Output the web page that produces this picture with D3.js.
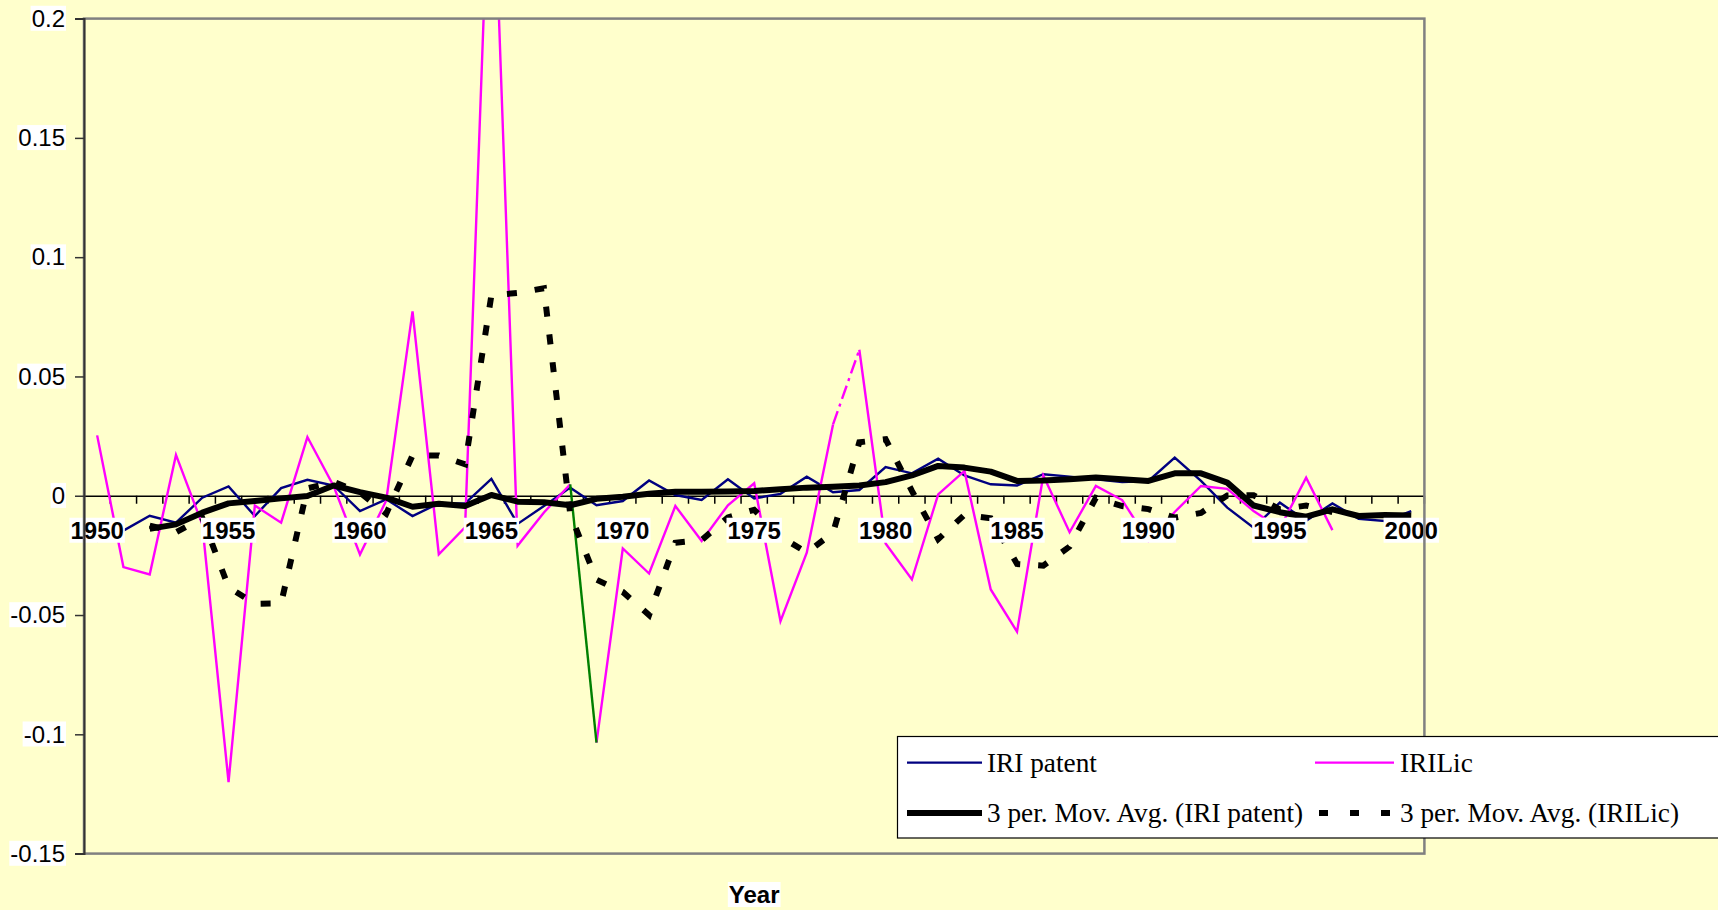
<!DOCTYPE html>
<html><head><meta charset="utf-8">
<script src="https://cdn.jsdelivr.net/npm/d3@7"></script>
<style>html,body{margin:0;padding:0;background:#FFFFCC;overflow:hidden}</style>
</head><body><svg id="c" width="1718" height="910"></svg>
<script>
const years = [1950,1951,1952,1953,1954,1955,1956,1957,1958,1959,1960,1961,1962,1963,1964,1965,1966,1967,1968,1969,1970,1971,1972,1973,1974,1975,1976,1977,1978,1979,1980,1981,1982,1983,1984,1985,1986,1987,1988,1989,1990,1991,1992,1993,1994,1995,1996,1997,1998,1999,2000];
const iriPatent = [-0.019,-0.0146,-0.0084,-0.0113,-0.0008,0.0039,-0.0085,0.0032,0.0067,0.0043,-0.0064,-0.0015,-0.0085,-0.0032,-0.0032,0.0071,-0.0118,-0.0043,0.0034,-0.004,-0.0022,0.0064,0.0003,-0.0018,0.0069,-0.0011,0.0008,0.008,0.0015,0.0024,0.012,0.0094,0.0155,0.0085,0.0048,0.0043,0.009,0.008,0.0069,0.0057,0.0062,0.016,0.0062,-0.005,-0.0134,-0.0029,-0.0105,-0.0032,-0.0097,-0.0106,-0.0064];
const iriLic = [0.0253,-0.0299,-0.033,0.0171,-0.012,-0.12,-0.0041,-0.0113,0.0246,0.004,-0.0246,-0.002,0.0773,-0.0246,-0.0132,0.29,-0.0209,-0.007,0.0048,-0.1035,-0.0221,-0.0326,-0.0043,-0.019,-0.004,0.0052,-0.0526,-0.0239,0.0299,0.0612,-0.02,-0.0351,0.0006,0.0104,-0.0393,-0.057,0.0085,-0.0153,0.0041,-0.0018,-0.019,-0.0068,0.0041,0.0029,-0.0064,-0.0136,0.0076,-0.0144];
const maPatent = [null,null,-0.0139,-0.012,-0.0071,-0.0032,-0.0022,-0.0011,-0.0001,0.0043,0.0015,-0.0008,-0.0046,-0.0034,-0.0043,0.0003,-0.0025,-0.0027,-0.004,-0.0013,-0.0004,0.0008,0.0017,0.0017,0.0018,0.002,0.0027,0.0034,0.0038,0.0043,0.0057,0.0085,0.0125,0.0118,0.0101,0.0062,0.0064,0.0069,0.0076,0.0069,0.0062,0.0094,0.0094,0.0055,-0.0041,-0.0069,-0.0088,-0.0057,-0.0085,-0.0081,-0.0083];
const maLic = [null,null,-0.0125,-0.0153,-0.0093,-0.0383,-0.0453,-0.0451,0.0031,0.0058,0.0013,-0.0075,0.0169,0.0169,0.0132,0.084,0.085,0.087,-0.0077,-0.0352,-0.0403,-0.050,-0.0197,-0.0186,-0.0091,-0.0059,-0.0171,-0.0238,-0.0155,0.0224,0.0237,0.002,-0.0182,-0.008,-0.0094,-0.0286,-0.0293,-0.0213,-0.0009,-0.0043,-0.0056,-0.0092,-0.0072,0.0001,0.0002,-0.0057,-0.0041,-0.0068];
const xTickLabels = ["1950","1955","1960","1965","1970","1975","1980","1985","1990","1995","2000"];
const yTickValues = [-0.15,-0.1,-0.05,0,0.05,0.1,0.15,0.2];
const yTickLabels = ["-0.15","-0.1","-0.05","0","0.05","0.1","0.15","0.2"];
const seriesNames = ["IRI patent","IRILic","3 per. Mov. Avg. (IRI patent)","3 per. Mov. Avg. (IRILic)"];
const axisTitle = "Year";
// special segment formatting of IRILic (segment starting at given year)
const licGreenFrom = 1968;
const licDashFrom = 1978;

const svg = d3.select("#c");
const W = 1718, H = 910;
const L = 84, R = 1424.4, T = 18.6, B = 853.6;
const bg = "#FFFFCC";
const sans = "Liberation Sans, Arial, sans-serif";

svg.append("rect").attr("width",W).attr("height",H).attr("fill",bg);

const x = d3.scaleBand().domain(years).range([L,R]).padding(0);
const y = d3.scaleLinear().domain([-0.15,0.2]).range([B,T]);
const cx = yr => x(yr) + x.bandwidth()/2;

svg.append("defs").append("clipPath").attr("id","clip")
  .append("rect").attr("x",L).attr("y",T).attr("width",R-L).attr("height",B-T);

svg.append("rect").attr("x",L).attr("y",T).attr("width",R-L).attr("height",B-T).attr("fill",bg);

// category axis at zero
const y0 = y(0);
const xAxis = d3.axisBottom(x).tickSize(0).tickFormat("");
const gx = svg.append("g").attr("transform",`translate(0,${y0})`).call(xAxis);
gx.select(".domain").attr("stroke","#000").attr("stroke-width",1.5);
const bounds = years.map(yr => x(yr)).concat([R]);
svg.append("g").selectAll("line").data(bounds).join("line")
  .attr("x1",d=>d).attr("x2",d=>d).attr("y1",y0).attr("y2",y0+8)
  .attr("stroke","#000").attr("stroke-width",1.5);

const plot = svg.append("g").attr("clip-path","url(#clip)");

const line = d3.line().defined(d => d.v != null).x(d => cx(d.yr)).y(d => y(d.v));

const patData = years.map((yr,i)=>({yr, v: iriPatent[i]}));
plot.append("path").attr("d", line(patData)).attr("fill","none")
  .attr("stroke","#000080").attr("stroke-width",2.4);

const licData = years.map((yr,i)=>({yr, v: i < iriLic.length ? iriLic[i] : null}));
const segs = [];
for (let i=0;i<iriLic.length-1;i++) segs.push({a: licData[i], b: licData[i+1]});
const normal = [];
let cur = [];
segs.forEach(s=>{
  if (s.a.yr === licGreenFrom || s.a.yr === licDashFrom){
    if (cur.length) normal.push(cur); cur=[];
  } else {
    if (!cur.length) cur.push(s.a);
    cur.push(s.b);
  }
});
if (cur.length) normal.push(cur);
normal.forEach(pts=>{
  plot.append("path").attr("d", line(pts)).attr("fill","none")
    .attr("stroke","#FF00FF").attr("stroke-width",2.4);
});
segs.filter(s=>s.a.yr===licGreenFrom).forEach(s=>{
  plot.append("path").attr("d", line([s.a,s.b])).attr("fill","none")
    .attr("stroke","#008000").attr("stroke-width",2.4);
});
segs.filter(s=>s.a.yr===licDashFrom).forEach(s=>{
  plot.append("path").attr("d", line([s.a,s.b])).attr("fill","none")
    .attr("stroke","#FF00FF").attr("stroke-width",2.4).attr("stroke-dasharray","14,5,3,5");
});

const maPatData = years.map((yr,i)=>({yr, v: maPatent[i]}));
plot.append("path").attr("d", line(maPatData)).attr("fill","none")
  .attr("stroke","#000").attr("stroke-width",6).attr("stroke-linejoin","round");
const maLicData = years.map((yr,i)=>({yr, v: i < maLic.length ? maLic[i] : null}));
plot.append("path").attr("d", line(maLicData)).attr("fill","none")
  .attr("stroke","#000").attr("stroke-width",6).attr("stroke-dasharray","10,18");

// x labels with white boxes
xTickLabels.forEach(lbl=>{
  const yr = +lbl;
  const g = svg.append("g");
  const t = g.append("text").attr("x",cx(yr)).attr("y",y0+43).attr("text-anchor","middle")
    .attr("font-family",sans).attr("font-weight","bold")
    .attr("font-size",24).attr("fill","#000").text(lbl);
  const bb = t.node().getBBox();
  g.insert("rect","text").attr("x",bb.x-1).attr("y",bb.y+1).attr("width",bb.width+2).attr("height",bb.height-2).attr("fill","#fff");
});

// plot border
svg.append("rect").attr("x",L).attr("y",T).attr("width",R-L).attr("height",B-T)
  .attr("fill","none").attr("stroke","#808080").attr("stroke-width",2.5);

// y axis
const yAxis = d3.axisLeft(y).tickValues(yTickValues).tickSize(9).tickFormat((d,i)=>yTickLabels[i]).tickPadding(10);
const gy = svg.append("g").attr("transform",`translate(${L},0)`).call(yAxis);
gy.select(".domain").attr("stroke","#333").attr("stroke-width",2);
gy.selectAll(".tick line").attr("stroke","#333").attr("stroke-width",1.5);
gy.selectAll(".tick text").attr("font-family",sans).attr("font-size",24).attr("fill","#000");
gy.selectAll(".tick").each(function(){
  const g = d3.select(this);
  const bb = g.select("text").node().getBBox();
  g.insert("rect","text").attr("x",bb.x-1).attr("y",bb.y+1).attr("width",bb.width+2).attr("height",bb.height-2).attr("fill","#fff");
});

// axis title
const tg = svg.append("g");
const tt = tg.append("text").attr("x",(L+R)/2).attr("y",903).attr("text-anchor","middle")
  .attr("font-family",sans).attr("font-weight","bold").attr("font-size",24).text(axisTitle);
const tb = tt.node().getBBox();
tg.insert("rect","text").attr("x",tb.x-1).attr("y",tb.y+1).attr("width",tb.width+2).attr("height",tb.height-2).attr("fill","#fff");

// legend
const lg = svg.append("g");
lg.append("rect").attr("x",897.5).attr("y",736.5).attr("width",830).attr("height",101.5)
  .attr("fill","#fff").attr("stroke","#000").attr("stroke-width",1.2);
const legendItems = [
  {name: seriesNames[0], x1: 907, x2: 982, tx: 987, yy: 762.6, color:"#000080", w:2.4, dash:null},
  {name: seriesNames[1], x1: 1315, x2: 1394, tx: 1400, yy: 762.6, color:"#FF00FF", w:2.4, dash:null},
  {name: seriesNames[2], x1: 907, x2: 982, tx: 987, yy: 813, color:"#000", w:6, dash:null},
  {name: seriesNames[3], x1: 1319, x2: 1394, tx: 1400, yy: 813, color:"#000", w:6, dash:"9,22"}
];
legendItems.forEach(it=>{
  const l = lg.append("line").attr("x1",it.x1).attr("x2",it.x2).attr("y1",it.yy).attr("y2",it.yy)
    .attr("stroke",it.color).attr("stroke-width",it.w);
  if (it.dash) l.attr("stroke-dasharray",it.dash);
  lg.append("text").attr("x",it.tx).attr("y",it.yy+9).attr("font-family","Liberation Serif, Times New Roman, serif")
    .attr("font-size",27.3).attr("fill","#000").text(it.name);
});
</script>
</body></html>
